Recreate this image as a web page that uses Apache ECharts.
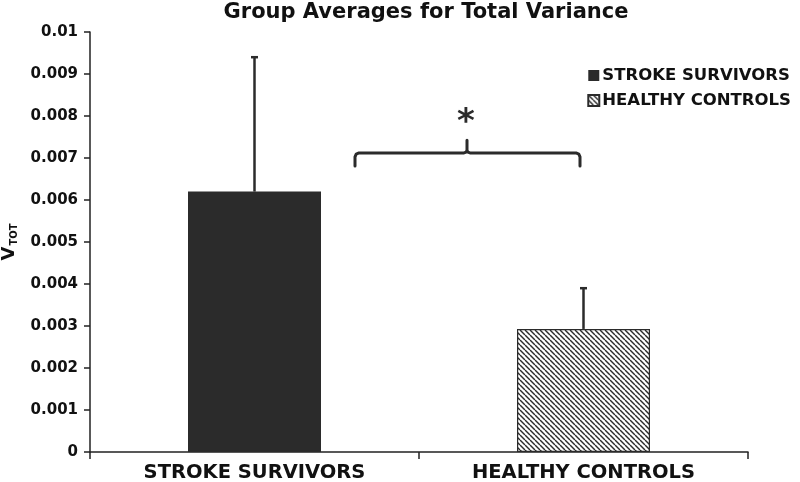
<!DOCTYPE html>
<html><head><meta charset="utf-8">
<script src="https://cdn.jsdelivr.net/npm/echarts@6/dist/echarts.min.js"></script>
<style>html,body{margin:0;padding:0;background:#fff}#c{width:800px;height:482px}</style>
</head><body><div id="c"></div>
<script>
const categories = ['STROKE SURVIVORS', 'HEALTHY CONTROLS'];
const seriesNames = ['STROKE SURVIVORS', 'HEALTHY CONTROLS'];
const means = [0.0062, 0.00293];
const upperErr = [0.0094, 0.0039];
const yTicks = [0, 0.001, 0.002, 0.003, 0.004, 0.005, 0.006, 0.007, 0.008, 0.009, 0.01];
const bracketLevel = 0.00712;
const bracketTip = 0.00742;

const FONT = '"DejaVu Sans", Verdana, sans-serif';
const DARK = '#2b2b2b';

// hatch pattern
const tile = document.createElement('canvas');
const s = 5;
tile.width = s; tile.height = s;
const tc = tile.getContext('2d');
tc.fillStyle = '#fff'; tc.fillRect(0, 0, s, s);
tc.strokeStyle = DARK; tc.lineWidth = 1.4;
for (const k of [-s, 0, s]) { tc.beginPath(); tc.moveTo(k, 0); tc.lineTo(k + s, s); tc.stroke(); }

const chart = echarts.init(document.getElementById('c'), null, {renderer: 'canvas'});
const opt = {
  backgroundColor: '#fff',
  animation: false,
  title: {
    text: 'Group Averages for Total Variance', left: 421, textAlign: 'center', top: -3,
    textStyle: {fontFamily: FONT, fontSize: 21, fontWeight: 'bold', color: '#111'}
  },
  legend: {
    right: 4, top: 62, orient: 'vertical', itemGap: 8, itemWidth: 11, itemHeight: 11,
    icon: 'rect', align: 'left',
    textStyle: {fontFamily: FONT, fontSize: 16.5, fontWeight: 'bold', color: '#111', padding: [0, 0, 0, -2]},
    data: seriesNames
  },
  grid: {left: 90, right: 52, top: 32, bottom: 30, outerBoundsMode: 'none', containLabel: false},
  xAxis: {
    type: 'category', data: categories,
    axisLine: {lineStyle: {color: '#222', width: 1.5}},
    axisTick: {show: true, alignWithLabel: false, length: 7, lineStyle: {color: '#222', width: 1.5}},
    axisLabel: {fontFamily: FONT, fontSize: 19.5, fontWeight: 'bold', color: '#111', margin: 11}
  },
  yAxis: {
    type: 'value', min: 0, max: 0.01, interval: 0.001,
    name: '{v|V}{s|TOT}', nameLocation: 'middle', nameRotate: 90, nameGap: 70,
    nameTextStyle: {rich: {
      v: {fontFamily: FONT, fontSize: 18, fontWeight: 'bold', color: '#111', lineHeight: 20},
      s: {fontFamily: FONT, fontSize: 10, fontWeight: 'bold', color: '#111', lineHeight: 20, verticalAlign: 'bottom', padding: [0, 0, 0, 1]}
    }},
    axisLine: {show: true, lineStyle: {color: '#222', width: 1.5}},
    axisTick: {show: true, length: 6, lineStyle: {color: '#222', width: 1.5}},
    splitLine: {show: false},
    axisLabel: {fontFamily: FONT, fontSize: 15, fontWeight: 'bold', color: '#111', margin: 12,
      formatter: v => { const f = yTicks.find(t => Math.abs(t - v) < 1e-9); return String(+(f ?? v).toFixed(3)); }}
  },
  series: [
    {name: seriesNames[0], type: 'bar', barWidth: 133, barGap: '-100%',
     itemStyle: {color: DARK},
     data: [means[0], '-']},
    {name: seriesNames[1], type: 'bar', barWidth: 133, barGap: '-100%',
     itemStyle: {color: {image: tile, repeat: 'repeat'}, borderColor: DARK, borderWidth: 1.2},
     data: ['-', means[1]]},
    {type: 'custom', name: 'err', silent: true, z: 5,
     data: means.map((m, i) => [i, m, upperErr[i]]),
     renderItem: (params, api) => {
       const p0 = api.coord([api.value(0), api.value(1)]);
       const p1 = api.coord([api.value(0), api.value(2)]);
       return {type: 'group', children: [
         {type: 'line', shape: {x1: p0[0], y1: p0[1], x2: p1[0], y2: p1[1]}, style: {stroke: DARK, lineWidth: 2.5}},
         {type: 'line', shape: {x1: p1[0] - 3.5, y1: p1[1], x2: p1[0] + 3.5, y2: p1[1]}, style: {stroke: DARK, lineWidth: 2.5}}
       ]};
     }}
  ]
};
chart.setOption(opt);

// bracket annotation
const yb = chart.convertToPixel({yAxisIndex: 0}, bracketLevel);
const yt = chart.convertToPixel({yAxisIndex: 0}, bracketTip);
const xl = 355, xr = 580, xm = 467;
const pts = [[xl, yb + 13], [xl, yb + 4], [xl + 1.2, yb + 1.2], [xl + 4, yb], [xm - 3, yb], [xm - 0.8, yb - 0.8], [xm, yb - 3], [xm, yt],
             [xm, yb - 3], [xm + 0.8, yb - 0.8], [xm + 3, yb], [xr - 4, yb], [xr - 1.2, yb + 1.2], [xr, yb + 4], [xr, yb + 13]];
chart.setOption({graphic: [
  {type: 'polyline', silent: true, z: 10, shape: {points: pts},
   style: {stroke: DARK, lineWidth: 3, fill: null, lineCap: 'round', lineJoin: 'round'}},
  {type: 'text', silent: true, z: 10, x: xm - 1, y: yt - 17,
   style: {text: '*', fontFamily: FONT, fontSize: 34, fontWeight: 'bold', fill: DARK, align: 'center', verticalAlign: 'middle'}}
]});
</script>
</body></html>
